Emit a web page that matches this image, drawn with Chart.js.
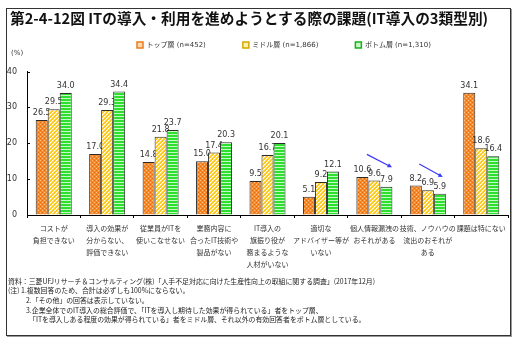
<!DOCTYPE html>
<html>
<head>
<meta charset="utf-8">
<script src="https://cdn.jsdelivr.net/npm/chart.js@4.4.0/dist/chart.umd.min.js"></script>
<style>
html,body{margin:0;padding:0;background:#fff;}
#wrap{position:relative;width:521px;height:347px;overflow:hidden;font-family:"Noto Sans CJK JP",sans-serif;color:#222;}
#frame{position:absolute;left:6px;top:8px;width:503px;height:326px;border:1px solid #333;box-shadow:1px 1px 0 #999;}
#title{position:absolute;left:10px;top:10px;font-size:14.7px;font-weight:bold;line-height:16px;color:#111;white-space:nowrap;}
#unit{position:absolute;left:11px;top:48px;font-family:"DejaVu Sans",sans-serif;font-size:7px;line-height:10px;color:#333;}
.note{position:absolute;font-size:6.9px;line-height:9px;white-space:nowrap;color:#222;}
canvas{position:absolute;left:0;top:0;}
</style>
</head>
<body>
<div id="wrap">
  <div id="frame"></div>
  <canvas id="c" width="521" height="347"></canvas>
  <div id="title">第2-4-12図 ITの導入・利用を進めようとする際の課題(IT導入の3類型別)</div>
  <div id="unit">(%)</div>
  <div class="note" style="left:8px;top:277px;">資料：三菱UFJリサーチ＆コンサルティング(株)「人手不足対応に向けた生産性向上の取組に関する調査」(2017年12月)</div>
  <div class="note" style="left:8px;top:286px;">(注) 1.複数回答のため、合計は必ずしも100%にならない。</div>
  <div class="note" style="left:26px;top:296px;">2.「その他」の回答は表示していない。</div>
  <div class="note" style="left:26px;top:305.5px;">3.企業全体でのIT導入の総合評価で、「ITを導入し期待した効果が得られている」者をトップ層、</div>
  <div class="note" style="left:29px;top:315px;">「ITを導入しある程度の効果が得られている」者をミドル層、それ以外の有効回答者をボトム層としている。</div>
</div>
<script>
// ---- data ----
const categories = [
  ["コストが","負担できない"],
  ["導入の効果が","分からない、","評価できない"],
  ["従業員がITを","使いこなせない"],
  ["業務内容に","合ったIT技術や","製品がない"],
  ["IT導入の","旗振り役が","務まるような","人材がいない"],
  ["適切な","アドバイザー等が","いない"],
  ["個人情報漏洩の","おそれがある"],
  ["技術、ノウハウの","流出のおそれが","ある"],
  ["課題は特にない"]
];
const seriesNames = ["トップ層 (n=452)", "ミドル層 (n=1,866)", "ボトム層 (n=1,310)"];
const topValues    = [26.5, 17.0, 14.8, 15.0,  9.5,  5.1, 10.6, 8.2, 34.1];
const middleValues = [29.5, 29.3, 21.8, 17.4, 16.7,  9.2,  9.6, 6.9, 18.6];
const bottomValues = [34.0, 34.4, 23.7, 20.3, 20.1, 12.1,  7.9, 5.9, 16.4];
const yTicks = [0, 10, 20, 30, 40];
// annotation arrows: category index, [offset in category widths, value]
const arrowCats = [6, 7];
const arrowFrom = [[-0.14, 16.9], [-0.16, 14.2]];
const arrowTo   = [[0.33, 13.3], [0.28, 10.6]];

// ---- patterns ----
function makePattern(w, h, draw) {
  const c = document.createElement('canvas'); c.width = w; c.height = h;
  const g = c.getContext('2d'); draw(g);
  return g.createPattern(c, 'repeat');
}
const orangePat = makePattern(4, 4, g => {
  g.fillStyle = '#F8892A'; g.fillRect(0, 0, 4, 4);
  g.fillStyle = '#FFC080'; g.fillRect(0, 0, 1, 1); g.fillRect(2, 2, 1, 1);
  g.fillStyle = '#E2700F'; g.fillRect(2, 0, 1, 1); g.fillRect(0, 2, 1, 1);
});
const yellowPat = makePattern(4, 4, g => {
  for (let y = 0; y < 4; y++) for (let x = 0; x < 4; x++) {
    const k = (x + y) % 4;
    g.fillStyle = k === 0 ? '#FFFFFF' : (k === 1 ? '#FFE47A' : '#FFC81E');
    g.fillRect(x, y, 1, 1);
  }
});
const greenPat = makePattern(1, 3, g => {
  g.fillStyle = '#2EE02E'; g.fillRect(0, 0, 1, 3);
  g.fillStyle = '#C4F8C4'; g.fillRect(0, 2, 1, 1);
});
const fills = [orangePat, yellowPat, greenPat];
const legendFill = ['#FFD9B0', '#FFF2B0', '#C8F8C8'];
const legendStroke = ['#E87C1E', '#D8A800', '#18B018'];

const customDraw = {
  id: 'customDraw',
  afterLayout(chart) {
    chart.legend.left = 137 - chart.options.plugins.legend.labels.padding;
    chart.legend.top = 4.5;
  },
  beforeDatasetsDraw(chart) {
    const ctx = chart.ctx;
    chart.data.datasets.forEach((ds, i) => {
      const meta = chart.getDatasetMeta(i);
      meta.controller.draw();
      ctx.save();
      ctx.font = '8px "DejaVu Sans"';
      ctx.fillStyle = '#333';
      ctx.textAlign = 'center';
      ctx.textBaseline = 'bottom';
      meta.data.forEach((bar, j) => {
        ctx.fillText(ds.data[j].toFixed(1), bar.x, bar.y - 3);
      });
      ctx.restore();
    });
    return false;
  },
  afterDraw(chart) {
    const ctx = chart.ctx, xs = chart.scales.x, ys = chart.scales.y, a = chart.chartArea;
    ctx.save();
    ctx.strokeStyle = '#000'; ctx.lineWidth = 1;
    yTicks.forEach(v => {
      const y = Math.round(ys.getPixelForValue(v)) + 0.5;
      ctx.beginPath(); ctx.moveTo(a.left, y); ctx.lineTo(a.left + 3, y); ctx.stroke();
    });
    const cw = xs.getPixelForValue(1) - xs.getPixelForValue(0);
    ctx.strokeStyle = '#3A3AF5'; ctx.fillStyle = '#3A3AF5'; ctx.lineWidth = 1.2;
    arrowCats.forEach((cat, k) => {
      const cx = xs.getPixelForValue(cat);
      const x1 = cx + arrowFrom[k][0] * cw, y1 = ys.getPixelForValue(arrowFrom[k][1]);
      const x2 = cx + arrowTo[k][0] * cw, y2 = ys.getPixelForValue(arrowTo[k][1]);
      const ang = Math.atan2(y2 - y1, x2 - x1), hl = 5;
      ctx.beginPath(); ctx.moveTo(x1, y1); ctx.lineTo(x2 - Math.cos(ang) * 3, y2 - Math.sin(ang) * 3); ctx.stroke();
      ctx.beginPath();
      ctx.moveTo(x2, y2);
      ctx.lineTo(x2 - hl * Math.cos(ang - 0.45), y2 - hl * Math.sin(ang - 0.45));
      ctx.lineTo(x2 - hl * Math.cos(ang + 0.45), y2 - hl * Math.sin(ang + 0.45));
      ctx.closePath(); ctx.fill();
    });
    ctx.restore();
  }
};

new Chart(document.getElementById('c'), {
  type: 'bar',
  data: {
    labels: categories,
    datasets: [topValues, middleValues, bottomValues].map((vals, i) => ({
      label: seriesNames[i],
      data: vals,
      backgroundColor: fills[i],
      borderColor: '#2a2a2a',
      borderWidth: 1,
      categoryPercentage: 0.674,
      barPercentage: 1.0
    }))
  },
  options: {
    responsive: false,
    animation: false,
    events: [],
    layout: { padding: { top: 17.5, left: 0, right: 13, bottom: 77 } },
    plugins: {
      title: { display: false },
      tooltip: { enabled: false },
      legend: {
        display: true,
        position: 'top',
        align: 'start',
        labels: {
          boxWidth: 6, boxHeight: 6, padding: 37, color: '#333',
          font: { family: "'DejaVu Sans', 'Noto Sans CJK JP'", size: 7 },
          generateLabels(chart) {
            return chart.data.datasets.map((ds, i) => ({
              text: ds.label, fillStyle: legendFill[i], strokeStyle: legendStroke[i],
              lineWidth: 1.5, hidden: false, datasetIndex: i, fontColor: '#333'
            }));
          }
        }
      }
    },
    scales: {
      x: {
        offset: true,
        grid: { display: true, offset: true, drawOnChartArea: false, drawTicks: true, tickLength: 3, color: '#000' },
        border: { display: true, color: '#000', width: 1 },
        ticks: {
          autoSkip: false, maxRotation: 0, minRotation: 0, padding: 4, color: '#333',
          font: { family: '"Noto Sans CJK JP"', size: 7, lineHeight: 1.72 }
        },
        afterFit(s) { s.height = 55; }
      },
      y: {
        min: 0, max: 40,
        afterBuildTicks(s) { s.ticks = yTicks.map(v => ({ value: v })); },
        grid: { display: true, drawOnChartArea: false, drawTicks: false },
        border: { display: true, color: '#000', width: 1 },
        ticks: { padding: 10, color: '#333', font: { family: '"DejaVu Sans"', size: 8 } },
        afterFit(s) { s.width = 27; }
      }
    }
  },
  plugins: [customDraw]
});
</script>
</body>
</html>
